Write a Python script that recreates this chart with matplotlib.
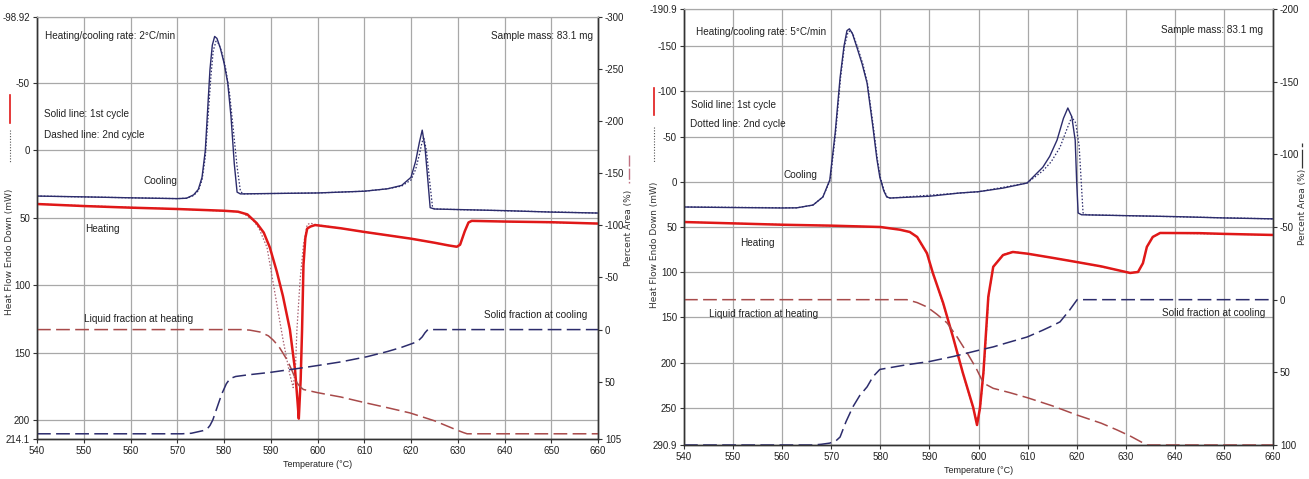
import matplotlib
matplotlib.use("Agg")
import matplotlib.pyplot as plt
from matplotlib.lines import Line2D

plt.rcParams['font.family'] = ['Liberation Sans Narrow', 'Liberation Sans', 'DejaVu Sans']
plt.rcParams['axes.unicode_minus'] = False

# ---------------- 2 °C/min run ----------------
cool1_T = [540, 550, 560, 570, 572, 573.5, 574.5, 575.3, 576, 576.5, 577, 577.5, 578, 578.5,
           579.2, 580, 580.8, 581.5, 582.2, 582.8, 583.5, 590, 600, 610, 615, 618, 620, 621,
           621.8, 622.4, 623, 623.6, 624.1, 625, 640, 650, 660]
cool1_HF = [33.9, 34.5, 35.2, 35.8, 35.5, 33, 29, 20, 0, -30, -60, -78, -84.5, -83,
            -76, -65, -50, -25, 10, 31, 32.3, 32, 31.6, 30.3, 28.5, 26, 20, 8,
            -6, -15, -2, 22, 42.5, 43.5, 44.7, 45.8, 46.5]
cool2_T = [540, 570, 572, 573.5, 574.5, 575.3, 576, 576.6, 577.2, 577.7, 578.3, 578.9,
           579.6, 580.4, 581.2, 582, 582.8, 583.5, 584, 600, 610, 615, 618, 620, 621,
           621.8, 622.3, 622.7, 623.3, 623.9, 624.6, 625, 660]
cool2_HF = [33.9, 35.8, 35.5, 33.5, 30, 22, 5, -25, -55, -74, -81, -79,
            -72, -60, -42, -15, 12, 30, 32.3, 31.6, 30.3, 28.5, 26.5, 22, 14,
            3, -5, -10, 0, 20, 42, 43.5, 46.5]
heat1_T = [540, 550, 560, 570, 580, 583, 585, 587, 588.5, 589.8, 591.3, 592.6, 594.1, 595.2,
           595.7, 596, 596.4, 596.7, 597, 597.4, 597.8, 598.5, 599.5, 605, 610, 615, 620,
           625, 628, 629.8, 630.5, 631.5, 632.3, 633, 640, 650, 660]
heat1_HF = [39.8, 41.3, 42.5, 43.5, 44.8, 45.5, 47.5, 54, 61, 72, 90, 108, 133, 163,
            185, 199, 170, 133, 85, 65, 58, 56.5, 55.4, 57.8, 60.5, 63, 65.5,
            68.5, 70.5, 71.5, 70, 60, 53.5, 52.3, 52.8, 53.3, 54.3]
heat2_T = [540, 570, 583, 584, 586.2, 587.5, 589.2, 590.5, 592.6, 594, 594.8, 595.3, 595.6,
           596.3, 597, 597.8, 598.5, 599.5, 605, 610, 620, 628, 629.8, 630.5, 631.5, 632.3,
           633, 660]
heat2_HF = [39.8, 43.5, 45.5, 46.5, 51.6, 58, 72, 98, 140, 165, 176, 160, 133,
            95, 70, 55, 54, 55, 57.8, 60.5, 65.5, 70.5, 71.5, 70, 60, 53.5,
            52.3, 54.3]
liq_T = [540, 584, 585.5, 587.7, 589.5, 590.5, 591.7, 592.6, 593.6, 594.5, 595.6, 596.3,
         597, 598, 600, 602.7, 605, 610, 615, 619.8, 625, 629.8, 631.2, 632, 660]
liq_PA = [0, 0, 0.5, 2.3, 6, 10, 16, 22.5, 30, 38.8, 51, 55,
          57.5, 58.5, 60.5, 62.8, 64.7, 70, 75, 80, 87.5, 96.4, 98.8, 100, 100]
sol_T = [540, 571, 573, 574.2, 575.5, 576.4, 577, 577.6, 578.5, 579.5, 580.5, 581.3, 582.5,
         585, 590, 596.3, 600, 605, 610.6, 615, 618, 620.5, 621.5, 622.4, 623, 623.6, 660]
sol_PA = [100, 100, 99.5, 98.3, 97, 95.4, 92, 86.8, 75, 62, 52, 47, 45,
          43.5, 41, 37, 34.5, 31, 26, 21, 17, 13, 11, 7, 3, 0, 0]

# ---------------- 5 °C/min run ----------------
cool1b_T = [540, 550, 560, 563, 566.3, 568.3, 569.7, 570.8, 571.8, 572.6, 573.2, 573.7, 574.3,
            575.2, 576.3, 577.3, 578.5, 579.3, 579.9, 580.7, 581.3, 582, 590, 596.2, 600, 605,
            609.9, 613.1, 614.5, 616, 617.3, 618.2, 619, 619.7, 620, 620.3, 621, 640, 650, 660]
cool1b_HF = [27.9, 28.5, 29, 28.8, 25.7, 16.8, -2, -54, -115, -150, -167, -169, -164,
             -149, -130, -109, -60, -25, -5, 10, 16.8, 18, 16, 12.4, 11, 7,
             1.4, -16, -28, -46, -70, -81.5, -72, -46, 0, 34.5, 36.5, 38.5, 40, 41]
cool2b_T = [540, 563, 566.3, 568.3, 569.8, 570.9, 571.9, 572.7, 573.4, 573.9, 574.5, 575.4,
            576.5, 577.4, 578.6, 579.4, 580, 580.8, 581.4, 582, 600, 609.9, 613.1, 614.8,
            616.6, 618, 619, 619.8, 620.5, 621.3, 622, 660]
cool2b_HF = [27.9, 28.8, 25.7, 16.8, -2, -54, -115, -150, -165, -167, -162, -148,
             -129, -108, -60, -25, -5, 10, 16.8, 18, 11, 1.4, -12, -22,
             -38, -58, -71.6, -65, -40, 34.5, 36.5, 41]
heat1b_T = [540, 550, 560, 570, 580, 584, 586, 587.5, 589.5, 590.7, 592.8, 594.8, 596.8, 598.9,
            599.7, 600.3, 601, 602, 603, 605, 607, 610, 615, 620, 625, 630.9, 632.5, 633.5,
            634.3, 635.5, 637, 645, 650, 660]
heat1b_HF = [44.5, 46, 47.5, 48.5, 50, 53, 55.5, 61, 79, 100.8, 134, 171.5, 211, 249,
             268.8, 250, 211, 127, 94, 81, 77.6, 79.5, 84, 88.7, 93.5, 100.8, 99.7, 90,
             72, 61, 56.6, 56.8, 57.6, 58.8]
heat2b_T = [540, 580, 584, 586, 587.5, 589.5, 590.7, 592.8, 594.8, 596.8, 598.9, 599.8,
            600.4, 601.1, 602.1, 603.1, 605, 607, 620, 630.9, 632.5, 633.5, 634.3, 635.5,
            637, 660]
heat2b_HF = [44.5, 50, 53, 55.5, 61.5, 80, 102, 135, 172, 212, 250, 266,
             248, 209, 125, 93, 80.5, 77, 88.5, 100.5, 99.5, 90, 72, 61,
             56.6, 58.8]
liqb_T = [540, 585.4, 587.5, 589.5, 591.5, 593.6, 595.7, 597.7, 598.9, 599.7, 601, 603, 606.4,
          610, 615, 620, 625, 628.2, 631, 634.3, 660]
liqb_PA = [0, 0, 2, 5, 10, 16, 26, 36.7, 43.6, 48.4, 57.4, 61, 64,
           67.5, 73, 79.3, 85, 89.6, 94, 100, 100]
solb_T = [540, 566.3, 568, 569.7, 571, 571.8, 573, 574.4, 575.8, 577.3, 578.5, 579.9, 585,
          590.1, 595, 600.3, 603, 606, 609.9, 613.1, 615, 616.6, 618.6, 620.1, 660]
solb_PA = [100, 100, 99.5, 98.7, 97, 94.5, 84, 73.8, 66, 60, 53, 48, 45,
           42.5, 39, 34.6, 32.5, 29.5, 25.7, 21, 18, 15.3, 7, 0, 0]

temp_ticks = list(range(540, 661, 10))

NAVY = '#2c2c6c'
RED = '#e01818'
PINK = '#a86070'
LIQ = '#a84a4a'
GRID = '#a8a8a8'

W, H = 1309, 479
fig = plt.figure(figsize=(W / 100, H / 100), dpi=100)


def box(x0, y0, x1, y1):
    return [x0 / W, 1 - y1 / H, (x1 - x0) / W, (y1 - y0) / H]


def vline(x, y0, y1, **kw):
    fig.add_artist(Line2D([x / W, x / W], [1 - y0 / H, 1 - y1 / H],
                          transform=fig.transFigure, **kw))


def dsc_panel(rect, hf_lim, hf_ticks, pa_lim, pa_ticks, curves, texts):
    ax = fig.add_axes(rect)
    ax2 = ax.twinx()
    (c1T, c1, c2T, c2, h1T, h1, h2T, h2, lT, l, sT, s) = curves

    ax.plot(c1T, c1, color=NAVY, lw=1.0, zorder=3)
    ax.plot(c2T, c2, color=NAVY, lw=0.9, ls=(0, (1.2, 1.5)), zorder=3)
    ax.plot(h2T, h2, color=PINK, lw=0.9, ls=(0, (1.2, 1.5)), zorder=3)
    ax.plot(h1T, h1, color=RED, lw=1.8, zorder=4)

    ax2.plot(lT, l, color=LIQ, lw=1.1, dashes=(9, 3.5))
    ax2.plot(sT, s, color=NAVY, lw=1.1, dashes=(9, 3.5))

    ax.set_xlim(540, 660)
    ax.set_ylim(hf_lim[1], hf_lim[0])
    ax2.set_ylim(pa_lim[1], pa_lim[0])
    ax.set_xticks(temp_ticks)
    ax.set_yticks(hf_ticks)
    ax.set_yticklabels([f'{v:g}' for v in hf_ticks])
    ax2.set_yticks(pa_ticks)

    ax.grid(True, color=GRID, lw=0.9)
    ax.set_axisbelow(True)
    for a in (ax, ax2):
        a.tick_params(labelsize=7, length=3, width=0.8, color='#333333',
                      labelcolor='#222222', pad=2)
        for side in ('left', 'bottom', 'right'):
            a.spines[side].set_color('#333333')
            a.spines[side].set_linewidth(1.0)
        a.spines['top'].set_color(GRID)
    ax.set_xlabel('Temperature (°C)', fontsize=6.5, labelpad=3, color='#222222')

    for x, y, s, ha in texts:
        ax.text(x, y, s, fontsize=7.2, ha=ha, va='center', color='#222222')
    return ax, ax2


dsc_panel(box(37, 17, 598, 439), (-98.92, 214.1),
          [-98.92, -50, 0, 50, 100, 150, 200, 214.1],
          (-300, 105), [-300, -250, -200, -150, -100, -50, 0, 50, 105],
          (cool1_T, cool1_HF, cool2_T, cool2_HF, heat1_T, heat1_HF, heat2_T, heat2_HF,
           liq_T, liq_PA, sol_T, sol_PA),
          [(541.7, -84.8, 'Heating/cooling rate: 2°C/min', 'left'),
           (658.9, -84.8, 'Sample mass: 83.1 mg', 'right'),
           (541.5, -27, 'Solid line: 1st cycle', 'left'),
           (541.5, -11.4, 'Dashed line: 2nd cycle', 'left'),
           (566.5, 22.7, 'Cooling', 'center'),
           (553.9, 58.3, 'Heating', 'center'),
           (550, 125.1, 'Liquid fraction at heating', 'left'),
           (657.6, 122.1, 'Solid fraction at cooling', 'right')])

dsc_panel(box(684, 9, 1273, 445), (-190.9, 290.9),
          [-190.9, -150, -100, -50, 0, 50, 100, 150, 200, 250, 290.9],
          (-200, 100), [-200, -150, -100, -50, 0, 50, 100],
          (cool1b_T, cool1b_HF, cool2b_T, cool2b_HF, heat1b_T, heat1b_HF, heat2b_T, heat2b_HF,
           liqb_T, liqb_PA, solb_T, solb_PA),
          [(542.4, -165.5, 'Heating/cooling rate: 5°C/min', 'left'),
           (658, -167.7, 'Sample mass: 83.1 mg', 'right'),
           (541.4, -84.8, 'Solid line: 1st cycle', 'left'),
           (541.2, -63.8, 'Dotted line: 2nd cycle', 'left'),
           (563.8, -7.5, 'Cooling', 'center'),
           (551.4, 67.7, 'Heating', 'left'),
           (545.1, 146.1, 'Liquid fraction at heating', 'left'),
           (658.4, 145, 'Solid fraction at cooling', 'right')])

# axis titles with their line keys
lab = dict(rotation=90, ha='center', va='center', fontsize=6.5,
           family='DejaVu Sans', color='#333333')
fig.text(10 / W, 1 - 252 / H, 'Heat Flow Endo Down (mW)', **lab)
vline(10, 95, 123, color=RED, lw=1.2)
vline(10, 130, 162, color='#555555', lw=0.8, ls=(0, (1, 1.5)))
fig.text(629 / W, 1 - 228 / H, 'Percent Area (%)', **lab)
vline(629, 155, 183, color='#c07080', lw=1.0, dashes=(8, 1.5))

fig.text(654 / W, 1 - 245 / H, 'Heat Flow Endo Down (mW)', **lab)
vline(654, 88, 115, color=RED, lw=1.2)
vline(654, 127, 163, color='#555555', lw=0.8, ls=(0, (1, 1.5)))
fig.text(1302 / W, 1 - 207 / H, 'Percent Area (%)', **lab)
vline(1302, 143, 168, color='#333333', lw=0.9, dashes=(3, 2, 30, 1))

fig.savefig('out.png', dpi=100)
